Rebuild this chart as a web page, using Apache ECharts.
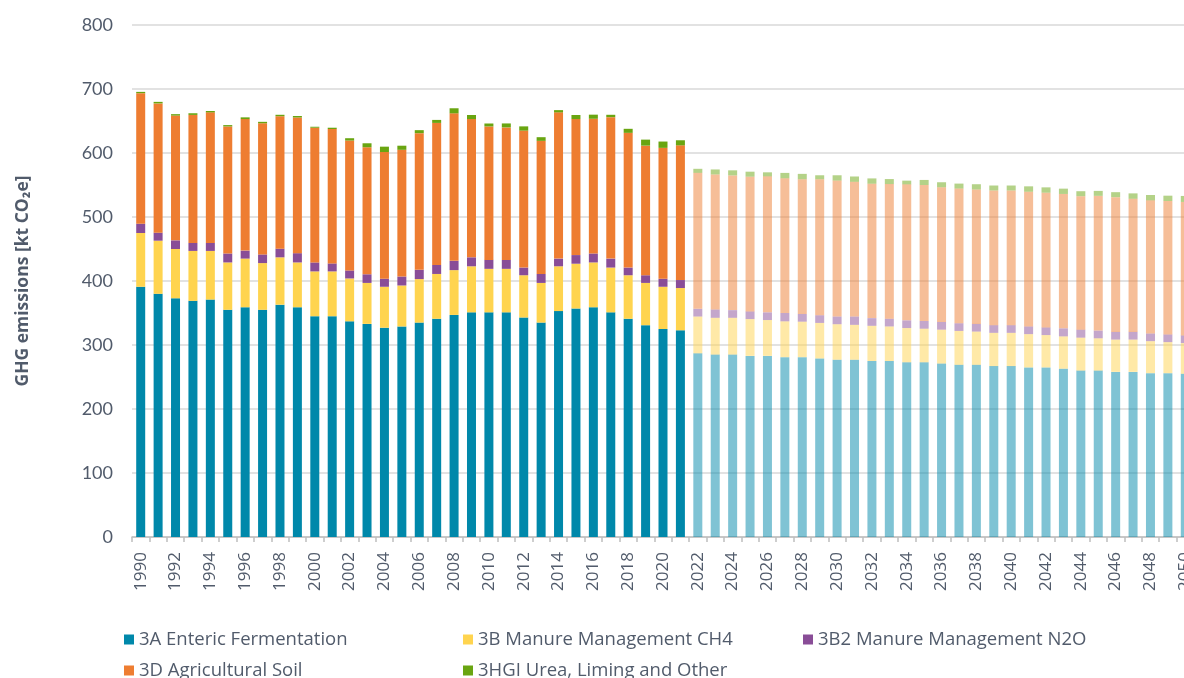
<!DOCTYPE html>
<html>
<head>
<meta charset="utf-8">
<script src="https://cdn.jsdelivr.net/npm/echarts@6/dist/echarts.min.js"></script>
<style>
  html, body { margin: 0; padding: 0; background: #fff; overflow: hidden; }
  /* the original chart is cut off on the right, so the canvas is wider than the window */
  #chart { width: 1210px; height: 678px; }
</style>
</head>
<body>
<div id="chart"></div>
<script>
const years = [
  '1990', '1991', '1992', '1993', '1994', '1995', '1996', '1997', '1998', '1999',
  '2000', '2001', '2002', '2003', '2004', '2005', '2006', '2007', '2008', '2009',
  '2010', '2011', '2012', '2013', '2014', '2015', '2016', '2017', '2018', '2019',
  '2020', '2021', '2022', '2023', '2024', '2025', '2026', '2027', '2028', '2029',
  '2030', '2031', '2032', '2033', '2034', '2035', '2036', '2037', '2038', '2039',
  '2040', '2041', '2042', '2043', '2044', '2045', '2046', '2047', '2048', '2049',
  '2050'
];
// projected years are drawn with lighter bars
const projectionFrom = '2022';

const seriesNames = [
  '3A Enteric Fermentation',
  '3B Manure Management CH4',
  '3B2 Manure Management N2O',
  '3D Agricultural Soil',
  '3HGI Urea, Liming and Other'
];
const seriesColors = ['#0088aa', '#ffd44f', '#894d97', '#ee7d31', '#69a511'];

// kt CO2e
const enteric = [
  391, 380, 373, 369, 371, 355, 359, 355, 363, 359,
  345, 345, 337, 333, 327, 329, 335, 341, 347, 351,
  351, 351, 343, 335, 353, 357, 359, 351, 341, 331,
  325, 323, 287, 285, 285, 283, 283, 281, 281, 279,
  277, 277, 275, 275, 273, 273, 271, 269, 269, 267,
  267, 265, 265, 263, 260, 260, 258, 258, 256, 256,
  255
];
const manureCH4 = [
  84, 83, 77, 78, 76, 74, 76, 73, 74, 70,
  70, 70, 67, 64, 64, 64, 68, 70, 70, 72,
  68, 68, 66, 62, 70, 70, 70, 70, 68, 66,
  66, 66, 57.5, 57.5, 57.5, 57.5, 56, 56, 55.5, 55.5,
  55.5, 54.5, 55, 54, 53.5, 52.5, 53, 53, 52, 52,
  52, 52, 50.5, 50.5, 51.5, 50.5, 50.5, 50.5, 50, 48.5,
  48
];
const manureN2O = [
  14.5, 12.5, 13.5, 12.5, 12.5, 14, 12.5, 13.5, 13.5, 14.5,
  14, 12.5, 12.5, 13.5, 12.5, 14, 14.5, 14, 14.5, 14,
  14, 14, 12, 14, 12, 13.5, 14, 14, 12, 12,
  12.5, 12.5, 12, 13, 12, 12, 12, 13, 12, 12,
  12, 13, 12, 12, 12, 12, 12, 12, 12, 12,
  12, 12, 12, 12.5, 12.5, 12, 12, 12, 12, 12,
  12
];
const agriSoil = [
  204, 202, 195, 200, 204, 198.5, 205.5, 205, 207, 212,
  210.5, 210, 203, 198.5, 198, 198, 213.5, 222, 230.5, 216,
  208.5, 207, 214, 208, 228.5, 212.5, 210.5, 221, 210.5, 202.5,
  204.5, 210.5, 212.5, 211, 210.5, 210.5, 212.5, 210.5, 210.5, 212.5,
  212.5, 210.5, 210, 210.5, 212.5, 212.5, 210.5, 210.5, 210, 210.5,
  210.5, 210.5, 210.5, 210, 208.5, 210.5, 210.5, 208, 208, 208.5,
  208.5
];
const urea = [
  2, 2.4, 2.2, 2.6, 2.1, 2.1, 2.7, 2.2, 2.2, 2.3,
  1.5, 2, 3.6, 6.2, 8.4, 6.4, 4.7, 4.7, 7.9, 6.4,
  4.6, 6.2, 6.6, 5.7, 3.5, 6.4, 6.4, 3.7, 6.3, 9.4,
  9.9, 7.9, 6.3, 7.8, 7.9, 7.8, 6.3, 8.4, 8.4, 6.2,
  8.2, 8.3, 8.3, 7.8, 5.8, 7.9, 7.8, 7.7, 8.2, 7.7,
  7.7, 8.4, 8.3, 8.3, 7.8, 7.8, 7.8, 8.4, 8.4, 8.3,
  9.4
];
const seriesValues = [enteric, manureCH4, manureN2O, agriSoil, urea];

const textColor = '#515b6b';
const font = 'Open Sans';

function toData(values) {
  return values.map(function (v, i) {
    if (years[i] >= projectionFrom) {
      return { value: v, itemStyle: { opacity: 0.5 } };
    }
    return v;
  });
}

const chart = echarts.init(document.getElementById('chart'));

// one legend per entry, laid out like the original two-row legend
const legendSpots = [
  { left: 124, top: 630 },
  { left: 463, top: 630 },
  { left: 803, top: 630 },
  { left: 124, top: 661 },
  { left: 463, top: 661 }
];
function legendFor(k) {
  return {
    left: legendSpots[k].left,
    top: legendSpots[k].top,
    icon: 'rect',
    itemWidth: 10,
    itemHeight: 10,
    selectedMode: false,
    padding: 0,
    textStyle: { fontFamily: font, fontSize: 18.5, color: textColor },
    data: [seriesNames[k]]
  };
}

const option = {
  animation: false,
  grid: { left: 132, top: 25, right: 16, height: 512 },
  legend: seriesNames.map(function (name, k) { return legendFor(k); }),
  xAxis: {
    type: 'category',
    data: years,
    axisLine: { lineStyle: { color: '#bfbfbf', width: 1.5 } },
    axisTick: { show: true, interval: 0, length: 5, lineStyle: { color: '#bfbfbf', width: 1.5 } },
    axisLabel: {
      interval: 1,
      rotate: 90,
      margin: 15,
      fontFamily: font,
      fontSize: 17,
      color: textColor
    }
  },
  yAxis: {
    type: 'value',
    min: 0,
    max: 800,
    interval: 100,
    name: 'GHG emissions [kt CO\u2082e]',
    nameLocation: 'middle',
    nameGap: 100,
    nameTextStyle: { fontFamily: font, fontSize: 17.5, fontWeight: 'bold', color: textColor },
    axisLine: { show: false },
    axisTick: { show: false },
    axisLabel: { margin: 19, fontFamily: 'Lato', fontSize: 18, color: textColor },
    splitLine: { lineStyle: { color: '#d9d9d9', width: 1.5 } }
  },
  series: seriesNames.map(function (name, k) {
    return {
      name: name,
      type: 'bar',
      stack: 'total',
      barWidth: 9,
      itemStyle: { color: seriesColors[k] },
      data: toData(seriesValues[k])
    };
  })
};

chart.setOption(option);
</script>
</body>
</html>
